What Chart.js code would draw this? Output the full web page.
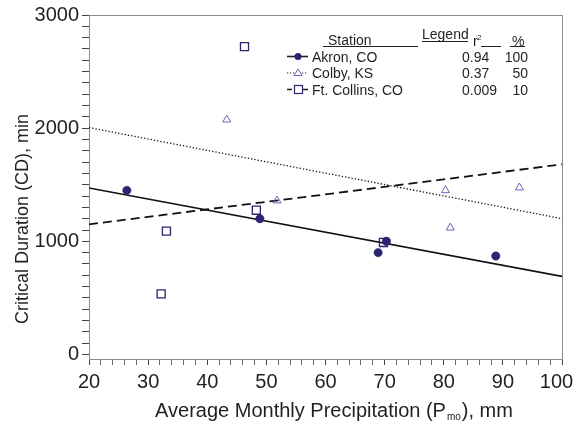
<!DOCTYPE html>
<html>
<head>
<meta charset="utf-8">
<script src="https://cdn.jsdelivr.net/npm/chart.js@4"></script>
<style>
  html, body { margin: 0; padding: 0; background: #fff; }
  #wrap { width: 577px; height: 428px; }
</style>
</head>
<body>
<div id="wrap"><canvas id="cdChart" width="577" height="428"></canvas></div>
<script>
// --- station observations: monthly precipitation (mm) vs critical duration (min) ---
const akronX = [26.4, 48.9, 68.9, 70.3, 88.8];
const akronY = [1450, 1200, 900, 1000, 870];
const colbyX = [43.3, 51.8, 80.3, 81.1, 92.8];
const colbyY = [2075, 1360, 1450, 1120, 1475];
const ftCollinsX = [32.2, 33.1, 46.3, 48.3, 69.8];
const ftCollinsY = [535, 1090, 2720, 1275, 990];

// fitted lines, evaluated at the ends of the x range
const fitX = [20, 100];
const akronFit = [1471, 690];
const colbyFit = [2005, 1200];
const ftCollinsFit = [1150, 1680];

// legend table
const stations = ['Akron, CO', 'Colby, KS', 'Ft. Collins, CO'];
const rSquared = ['0.94', '0.37', '0.009'];
const percents = ['100', '50', '10'];

const xTicks = [];
for (let v = 20; v <= 100; v += 2) xTicks.push(v);
const yTicks = [];
for (let v = 0; v <= 3000; v += 100) yTicks.push(v);

const INK = '#231f20';
const FRAME = '#8c8c8c';
const NAVY = '#2b2570';
const LILAC = '#6c64b4';
const FONT = '"Liberation Sans", Arial, sans-serif';

const pts = (xs, ys) => xs.map((x, i) => ({ x: x, y: ys[i] }));

// box around the plot + axis titles + the station table
const decorations = {
    id: 'decorations',
    beforeDatasetsDraw(chart) {
        const { ctx, chartArea: a } = chart;
        ctx.save();
        ctx.strokeStyle = FRAME;
        ctx.lineWidth = 1;
        ctx.strokeRect(a.left + 0.5, a.top + 0.5, a.right - a.left, a.bottom - a.top);
        ctx.restore();
    },
    afterDraw(chart) {
        const { ctx } = chart;
        ctx.save();
        ctx.fillStyle = INK;
        ctx.textBaseline = 'alphabetic';

        // y title
        ctx.save();
        ctx.translate(28, 219);
        ctx.rotate(-Math.PI / 2);
        ctx.font = '18px ' + FONT;
        ctx.textAlign = 'center';
        ctx.fillText('Critical Duration (CD), min', 0, 0);
        ctx.restore();

        // x title with subscript
        const p1 = 'Average Monthly Precipitation (P', sub = 'mo', p2 = '), mm';
        ctx.font = '20px ' + FONT;
        const w1 = ctx.measureText(p1).width, w2 = ctx.measureText(p2).width;
        ctx.font = '10px ' + FONT;
        const ws = ctx.measureText(sub).width;
        let tx = 333 - (w1 + ws + w2) / 2;
        const ty = 417;
        ctx.textAlign = 'left';
        ctx.font = '20px ' + FONT;
        ctx.fillText(p1, tx, ty);
        ctx.font = '10px ' + FONT;
        ctx.fillText(sub, tx + w1 + 1, ty + 3);
        ctx.font = '20px ' + FONT;
        ctx.fillText(p2, tx + w1 + ws + 2, ty);

        // table header
        ctx.font = '14px ' + FONT;
        ctx.fillText('Station', 328, 45);
        ctx.fillText('Legend', 422, 39);
        ctx.fillText('r', 473, 46);
        ctx.font = '8px ' + FONT;
        ctx.fillText('2', 477, 40);
        ctx.font = '14px ' + FONT;
        ctx.fillText('%', 512, 46);
        ctx.strokeStyle = INK;
        ctx.lineWidth = 1;
        ctx.beginPath();
        ctx.moveTo(323, 46.5); ctx.lineTo(418, 46.5);
        ctx.moveTo(422, 41.5); ctx.lineTo(468, 41.5);
        ctx.moveTo(481, 46.5); ctx.lineTo(501, 46.5);
        ctx.moveTo(510, 46.5); ctx.lineTo(525, 46.5);
        ctx.stroke();

        // table rows
        const rowY = [61.5, 78, 94.5];
        const dashes = [[], [1.2, 1.8], [5, 3]];
        rowY.forEach((y, i) => {
            const my = y - 5;
            ctx.strokeStyle = INK;
            ctx.lineWidth = i === 1 ? 1.2 : 1.6;
            ctx.setLineDash(dashes[i]);
            ctx.beginPath();
            ctx.moveTo(287, my); ctx.lineTo(308, my);
            ctx.stroke();
            ctx.setLineDash([]);
            if (i === 0) {
                ctx.fillStyle = NAVY;
                ctx.beginPath();
                ctx.arc(298, my, 3.5, 0, Math.PI * 2);
                ctx.fill();
            } else if (i === 1) {
                ctx.strokeStyle = LILAC;
                ctx.lineWidth = 1;
                ctx.fillStyle = '#fff';
                ctx.beginPath();
                ctx.moveTo(298, my - 4); ctx.lineTo(302, my + 2.5); ctx.lineTo(294, my + 2.5);
                ctx.closePath();
                ctx.fill(); ctx.stroke();
            } else {
                ctx.strokeStyle = NAVY;
                ctx.lineWidth = 1.2;
                ctx.fillStyle = '#fff';
                ctx.fillRect(294.5, my - 4, 8, 8);
                ctx.strokeRect(294.5, my - 4, 8, 8);
            }
            ctx.fillStyle = INK;
            ctx.font = '14px ' + FONT;
            ctx.textAlign = 'left';
            ctx.fillText(stations[i], 312, y);
            ctx.fillText(rSquared[i], 462, y);
            ctx.textAlign = 'right';
            ctx.fillText(percents[i], 528, y);
        });
        ctx.restore();
    }
};

new Chart(document.getElementById('cdChart'), {
    type: 'scatter',
    data: {
        datasets: [
            {
                label: 'Akron, CO', data: pts(akronX, akronY), order: 1,
                pointStyle: 'circle', pointRadius: 4.2, pointBackgroundColor: NAVY,
                pointBorderColor: NAVY, pointBorderWidth: 0.5
            },
            {
                label: 'Colby, KS', data: pts(colbyX, colbyY), order: 2,
                pointStyle: 'triangle', pointRadius: 4.6, pointBackgroundColor: 'rgba(255,255,255,0)',
                pointBorderColor: LILAC, pointBorderWidth: 1
            },
            {
                label: 'Ft. Collins, CO', data: pts(ftCollinsX, ftCollinsY), order: 3,
                pointStyle: 'rect', pointRadius: 5.7, pointBackgroundColor: 'rgba(255,255,255,0)',
                pointBorderColor: NAVY, pointBorderWidth: 1.3
            },
            {
                type: 'line', label: 'Akron fit', data: pts(fitX, akronFit), order: 4,
                borderColor: '#111', borderWidth: 1.6, pointRadius: 0, fill: false
            },
            {
                type: 'line', label: 'Colby fit', data: pts(fitX, colbyFit), order: 5,
                borderColor: '#111', borderWidth: 1.3, borderDash: [1.3, 2], pointRadius: 0, fill: false
            },
            {
                type: 'line', label: 'Ft. Collins fit', data: pts(fitX, ftCollinsFit), order: 6,
                borderColor: '#111', borderWidth: 1.8, borderDash: [9, 5], pointRadius: 0, fill: false
            }
        ]
    },
    options: {
        responsive: false,
        animation: false,
        events: [],
        layout: { padding: { top: 15, right: 0, left: 0, bottom: 0 } },
        plugins: { legend: { display: false }, tooltip: { enabled: false } },
        scales: {
            x: {
                type: 'linear', min: 20, max: 100,
                afterBuildTicks: (s) => { s.ticks = xTicks.map(v => ({ value: v })); },
                afterFit: (s) => { s.height = 69; s.paddingRight = 15; s.paddingLeft = 0; },
                border: { display: true, color: FRAME, width: 1 },
                grid: {
                    drawOnChartArea: false, drawTicks: true, tickLength: 6,
                    tickColor: (c) => (c.tick && c.tick.value % 10 === 0 ? '#444' : '#666'),
                    tickWidth: 1
                },
                ticks: {
                    autoSkip: false, maxRotation: 0, padding: 5, color: INK,
                    font: { family: FONT, size: 20 },
                    // the last label is nudged left so it stays inside the canvas
                    callback: (v) => (v % 10 !== 0 ? '' : (v === 100 ? '100  ' : String(v)))
                }
            },
            y: {
                type: 'linear', min: -40, max: 3000,
                afterBuildTicks: (s) => { s.ticks = yTicks.map(v => ({ value: v })); },
                afterFit: (s) => { s.width = 89; },
                border: { display: true, color: FRAME, width: 1 },
                grid: {
                    drawOnChartArea: false, drawTicks: true, tickLength: 7,
                    tickColor: '#444', tickWidth: 1
                },
                ticks: {
                    autoSkip: false, padding: 3, color: INK,
                    font: { family: FONT, size: 20 },
                    callback: (v) => (v % 1000 === 0 ? String(v) : '')
                }
            }
        }
    },
    plugins: [decorations]
});
</script>
</body>
</html>
